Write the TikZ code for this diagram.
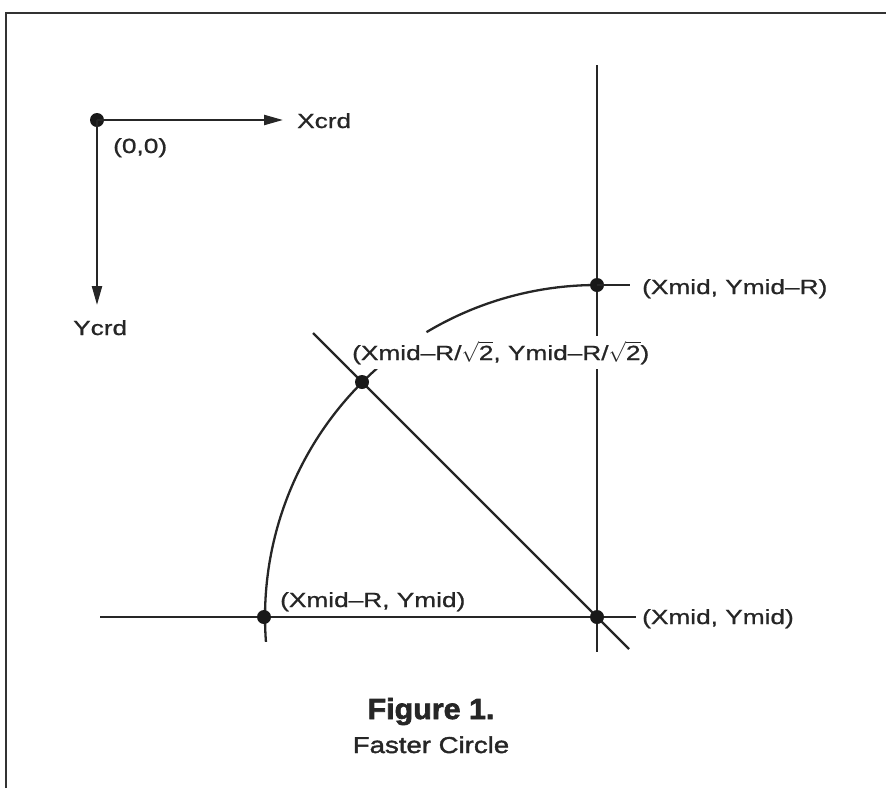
\documentclass[tikz,border=0pt]{standalone}
\usepackage{fontspec}
\setmainfont{Liberation Sans}
\newfontfamily\lblfont{Liberation Sans}[FakeStretch=1.28,FakeBold=0.9]
\newfontfamily\figfont{Liberation Sans}[FakeStretch=1.05,FakeBold=2.2]
\newfontfamily\subfont{Liberation Sans}[FakeStretch=1.2,FakeBold=1.6]
\usetikzlibrary{arrows.meta}
\begin{document}
\begin{tikzpicture}[x=1pt,y=-1pt,
  ln/.style={line width=2.3pt, draw=black!85},
  arr/.style={ln, -{Triangle[length=19pt,width=10pt]}},
  dotn/.style={circle, fill=black!90, inner sep=0pt, minimum size=14pt},
  lbl/.style={font=\lblfont\fontsize{20.5}{24}\selectfont, inner sep=0pt, anchor=base west, text=black!85},
  framel/.style={line width=2.8pt, draw=black!80}
]
\useasboundingbox (0,0) rectangle (886,788);
% frame
\coordinate (fbl) at (6,788);
\coordinate (ftl) at (6,13);
\coordinate (ftr) at (886,13);
\draw[framel] (fbl) -- (ftl) -- (ftr);

% coordinate axes
\node[dotn] (O) at (97,120) {};
\coordinate (xtip) at (283,120);
\coordinate (ytip) at (97,305);
\draw[arr] (O.center) -- (xtip);
\draw[arr] (O.center) -- (ytip);
\node[lbl] (xl) at (297,128) {Xcrd};
\node[lbl] (yl) at (73,335) {Ycrd};
\node[lbl] (ol) at (113,153) {(0,0)};

% construction lines
\coordinate (C) at (597,617);
\coordinate (vt) at (597,65);
\coordinate (vb) at (597,652);
\coordinate (hl) at (100,617);
\coordinate (hr) at (636,617);
\coordinate (dt) at (313,333);
\coordinate (db) at (629,649);
\draw[ln] (vt) -- (vb);
\draw[ln] (hl) -- (hr);
\draw[ln] (dt) -- (db);

% arcs
\draw[ln] (C) ++(175.7:332) arc[start angle=175.7, end angle=229, radius=332];
\draw[ln] (C) ++(239.1:332) arc[start angle=239.1, end angle=270, radius=332];
\coordinate (tt) at (630,285);

% points
\node[dotn] (P1) at (264,617) {};
\node[dotn] (P2) at (362,382) {};
\node[dotn] (P3) at (597,285) {};
\node[dotn] (P4) at (C) {};
\draw[ln] (P3.center) -- (tt);

% labels
\node[lbl] (l3) at (642,294) {(Xmid, Ymid–R)};
\node[lbl, fill=white, inner xsep=2pt, inner ysep=5pt] (l2) at (350,360)
  {(Xmid–R/$\sqrt{\mbox{2}}$, Ymid–R/$\sqrt{\mbox{2}}$)};
\node[lbl] (l1) at (280,607) {(Xmid–R, Ymid)};
\node[lbl] (l4) at (642,624) {(Xmid, Ymid)};

% caption
\node[font=\figfont\bfseries\fontsize{29}{34}\selectfont, anchor=base, inner sep=0pt, text=black!85] (cap1) at (431,719) {Figure 1.};
\node[font=\subfont\fontsize{23}{27}\selectfont, anchor=base, inner sep=0pt, text=black!85] (cap2) at (431,753) {Faster Circle};
\end{tikzpicture}
\end{document}
